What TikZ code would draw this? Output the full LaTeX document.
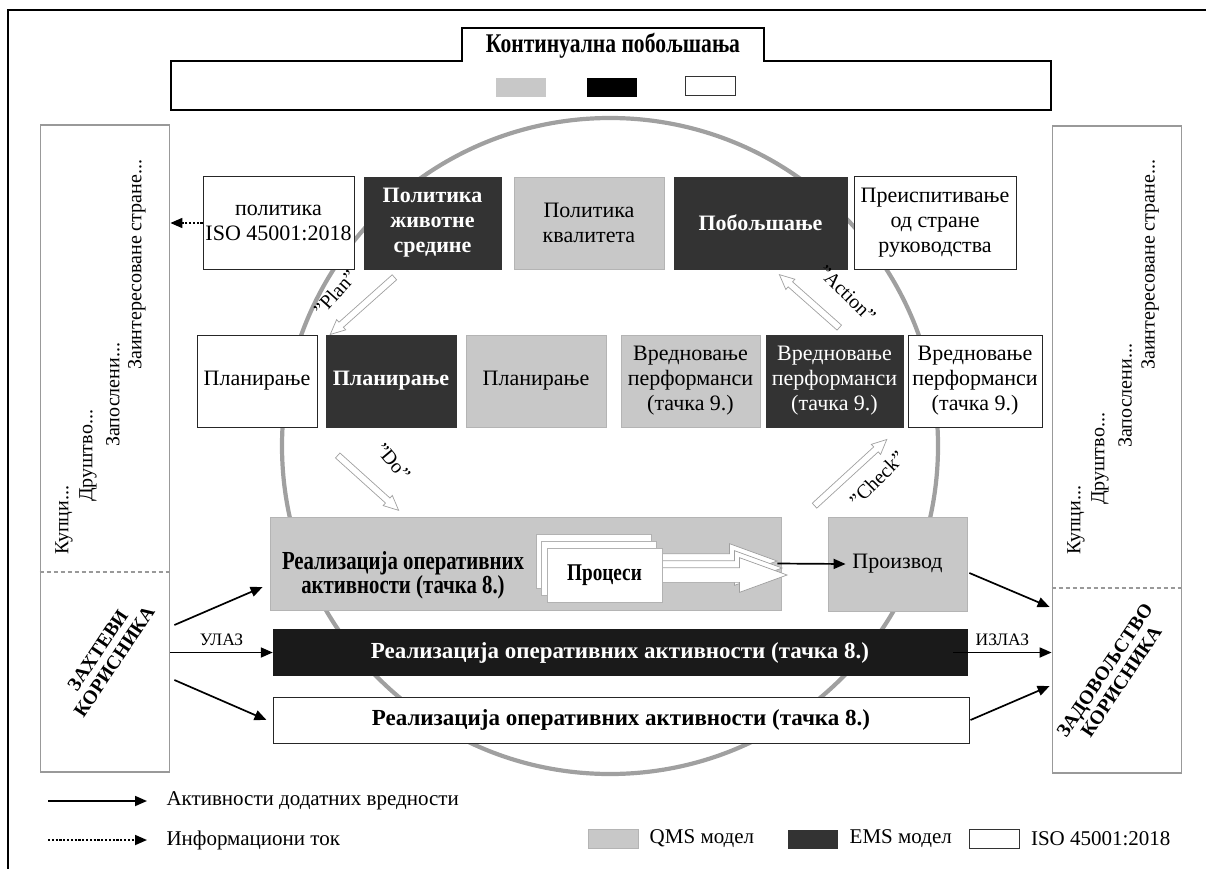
\documentclass[tikz,border=0pt]{standalone}
\usepackage{fontspec}
\setmainfont{Liberation Serif}
\newfontfamily\narrowserif[FakeStretch=0.8]{Liberation Serif}
\usetikzlibrary{arrows.meta,shapes.arrows,positioning}

\definecolor{qmsgray}{HTML}{C8C8C8}
\definecolor{qmsedge}{HTML}{B4B4B4}
\definecolor{emsdark}{HTML}{333333}
\definecolor{emsblack}{HTML}{1A1A1A}
\definecolor{ringgray}{HTML}{A0A0A0}
\definecolor{colgray}{HTML}{999999}

\newcommand\cellsize{\fontsize{22}{25}\selectfont}
\newcommand\narrowbold{\narrowserif\bfseries}

\begin{document}
\begin{tikzpicture}[x=1pt,y=-1pt,
  cell/.style={minimum height=92, inner sep=0, align=center, font=\cellsize},
  boldcell/.style={cell, font=\bfseries\cellsize},
  isobox/.style={draw=black!85, line width=1pt, fill=white},
  qmsbox/.style={draw=qmsedge, line width=0.8pt, fill=qmsgray},
  emsbox/.style={draw=emsdark, fill=emsdark, text=white},
  column/.style={draw=colgray, line width=1.8pt, minimum width=129, minimum height=647, inner sep=0},
  sepline/.style={draw=colgray, line width=1.2pt, dash pattern=on 4pt off 3pt},
  coltext/.style={rotate=90, anchor=west, inner sep=0, font=\fontsize{20}{22}\selectfont},
  custtext/.style={rotate=56, align=center, inner sep=0, font=\bfseries\fontsize{19.5}{20}\selectfont},
  flow/.style={line width=1.7pt, -{Triangle[length=12pt,width=10pt]}},
  info/.style={flow, dash pattern=on 2.2pt off 1.6pt},
  pdca/.style={single arrow, draw=ringgray, fill=white, line width=0.7pt, inner sep=3,
    single arrow head extend=3.5, single arrow tip angle=50},
  pdcalabel/.style={inner sep=0, font=\fontsize{20}{22}\selectfont},
  procarrow/.style={single arrow, draw=ringgray, fill=white, line width=0.7pt, inner sep=7,
    single arrow head extend=10, single arrow tip angle=40, minimum height=136},
  procbox/.style={draw=black!30, fill=white, line width=0.6pt, minimum width=115, minimum height=54},
  barbox/.style={minimum height=46, inner sep=0, font=\bfseries\fontsize{23}{25}\selectfont},
  sq/.style={minimum width=50, minimum height=19, inner sep=0},
  legend/.style={font=\fontsize{21}{23}\selectfont},
]
\useasboundingbox (0,0) rectangle (1206,869);
\draw[line width=2.4pt] (8,869) -- (8,10) -- (1206,10);

\draw[line width=2.4pt, fill=white] (171,61) -- (462,61) -- (462,28) -- (764,28) -- (764,61)
  -- (1051,61) -- (1051,110) -- (171,110) -- cycle;
\node (ciTitle) at (613,46) {\narrowbold\fontsize{27}{28}\selectfont Континуална побољшања};
\node[sq, fill=qmsgray] (ciQms) at (520.5,87.5) {};
\node[sq, fill=black] (ciEms) at (611.5,88) {};
\node[sq, draw=black!80, line width=1pt, fill=white] (ciIso) at (710.5,86.5) {};

\draw[ringgray, line width=4.2pt] (610,446) circle[radius=328pt];

\node[column] (leftCol) at (105,448.5) {};
\node[column] (rightCol) at (1117,449.5) {};
\draw[sepline] ([yshift=-123.5pt]leftCol.west) -- ([yshift=-123.5pt]leftCol.east);
\draw[sepline] ([yshift=-138.5pt]rightCol.west) -- ([yshift=-138.5pt]rightCol.east);

\node[coltext] (lBuyers) at (64,555) {Купци...};
\node[coltext] (lSociety) at (88,502) {Друштво...};
\node[coltext] (lStaff) at (113,447) {Запослени...};
\node[coltext] (lParties) at (137,370) {Заинтересоване стране...};
\node[coltext] (rBuyers) at (1076,555) {Купци...};
\node[coltext] (rSociety) at (1100,505) {Друштво...};
\node[coltext] (rStaff) at (1125,448) {Запослени...};
\node[coltext] (rParties) at (1150,370) {Заинтересоване стране...};

\node[custtext] (custReq) at (106,656) {ЗАХТЕВИ\\КОРИСНИКА};
\node[custtext] (custSat) at (1113,676) {ЗАДОВОЉСТВО\\КОРИСНИКА};

\node[cell, isobox, minimum width=151] (isoPol) at (278.5,223) {политика\\ISO 45001:2018};
\node[boldcell, emsbox, minimum width=137] (emsPol) at (432.5,223) {Политика\\животне\\средине};
\node[cell, qmsbox, minimum width=150] (qmsPol) at (589,223) {Политика\\квалитета};
\node[boldcell, emsbox, minimum width=173] (emsImp) at (760.5,223) {Побољшање};
\node[cell, isobox, minimum width=162] (isoRev) at (935,223) {Преиспитивање\\од стране\\руководства};

\node[cell, isobox, minimum width=120] (isoPlan) at (257,381) {Планирање};
\node[boldcell, emsbox, minimum width=130] (emsPlan) at (391,381) {Планирање};
\node[cell, qmsbox, minimum width=140] (qmsPlan) at (536,381) {Планирање};
\node[cell, qmsbox, minimum width=139] (qmsEval) at (690.5,381) {Вредновање\\перформанси\\(тачка 9.)};
\node[cell, emsbox, minimum width=137] (emsEval) at (834.5,381) {Вредновање\\перформанси\\(тачка 9.)};
\node[cell, isobox, minimum width=134] (isoEval) at (975,381) {Вредновање\\перформанси\\(тачка 9.)};

\node[pdca, minimum height=86, rotate=221.7] (planArr) at (365,303.5) {};
\node[pdcalabel, rotate=48] (planLbl) at (335,293) {”Plan”};
\node[pdca, minimum height=82, rotate=-42] (doArr) at (365.5,480.5) {};
\node[pdcalabel, rotate=-50] (doLbl) at (393,462) {”Do”};
\node[pdca, minimum height=98, rotate=42.5] (checkArr) at (848,475) {};
\node[pdcalabel, rotate=45] (checkLbl) at (877,479) {”Check”};
\node[pdca, minimum height=80, rotate=138.5] (actArr) at (812,303.5) {};
\node[pdcalabel, rotate=-45] (actLbl) at (847,294) {”Action”};

\node[qmsbox, minimum width=511, minimum height=93, inner sep=0] (qmsReal) at (525.5,563.5) {};
\node[align=center, font=\narrowbold\fontsize{26}{24}\selectfont] (qmsRealTxt) at (403,575)
  {Реализација оперативних\\активности (тачка 8.)};
\node[qmsbox, minimum width=139, minimum height=94, font=\cellsize] (product) at (897.5,564) {Производ};

\node[procarrow] (procArrC) at (699,561) {};
\node[procarrow] (procArrB) at (704,568) {};
\node[procarrow] (procArrA) at (709,575) {};
\node[procbox] (procC) at (593.5,561) {};
\node[procbox] (procB) at (599,568) {};
\node[procbox] (procA) at (604.5,575) {\narrowbold\fontsize{24}{26}\selectfont Процеси};
\draw[flow] ([xshift=-4pt]qmsReal.east) -- ([xshift=18pt]product.west);

\node[barbox, fill=emsblack, draw=emsblack, text=white, minimum width=694] (emsReal) at (620,652.5)
  {Реализација оперативних активности (тачка 8.)};
\node[barbox, isobox, minimum width=696] (isoReal) at (621,720)
  {Реализација оперативних активности (тачка 8.)};

\draw[info] (isoPol.west) -- (leftCol.east |- isoPol.west);
\draw[flow] ([shift={(4,176.5)}]leftCol.east) -- ([shift={(-7,23.5)}]qmsReal.west);
\draw[flow] (leftCol.east |- emsReal.west) -- (emsReal.west)
  node[midway, above=3pt, font=\fontsize{17.5}{19}\selectfont] {УЛАЗ};
\draw[flow] ([shift={(4,231.5)}]leftCol.east) -- ([xshift=-6pt]isoReal.west);
\draw[flow] ([shift={(2,9)}]product.east) -- ([shift={(-2,157.5)}]rightCol.west);
\draw[flow] ([xshift=-14pt]emsReal.east) -- (rightCol.west |- emsReal.east)
  node[midway, above=3pt, font=\fontsize{17.5}{19}\selectfont] {ИЗЛАЗ};
\draw[flow] ([xshift=1pt]isoReal.east) -- ([shift={(-2,236.5)}]rightCol.west);

\coordinate (lgFlowStart) at (48,801);
\coordinate (lgInfoStart) at (48,840);
\node[legend, anchor=west] (lgFlowTxt) at (163,801) {Активности додатних вредности};
\node[legend, anchor=west] (lgInfoTxt) at (163,840) {Информациони ток};
\draw[flow] (lgFlowStart) -- ([xshift=-16pt]lgFlowTxt.west);
\draw[info] (lgInfoStart) -- ([xshift=-16pt]lgInfoTxt.west);
\node[sq, fill=qmsgray, draw=qmsedge] (lgQms) at (613,839) {};
\node[legend, right=8pt of lgQms] (lgQmsTxt) {QMS модел};
\node[sq, fill=emsdark] (lgEms) at (813,839) {};
\node[legend, right=8pt of lgEms] (lgEmsTxt) {EMS модел};
\node[sq, draw=black!80, line width=1pt, fill=white] (lgIso) at (994,839) {};
\node[legend, right=8pt of lgIso] (lgIsoTxt) {ISO 45001:2018};
\end{tikzpicture}
\end{document}
